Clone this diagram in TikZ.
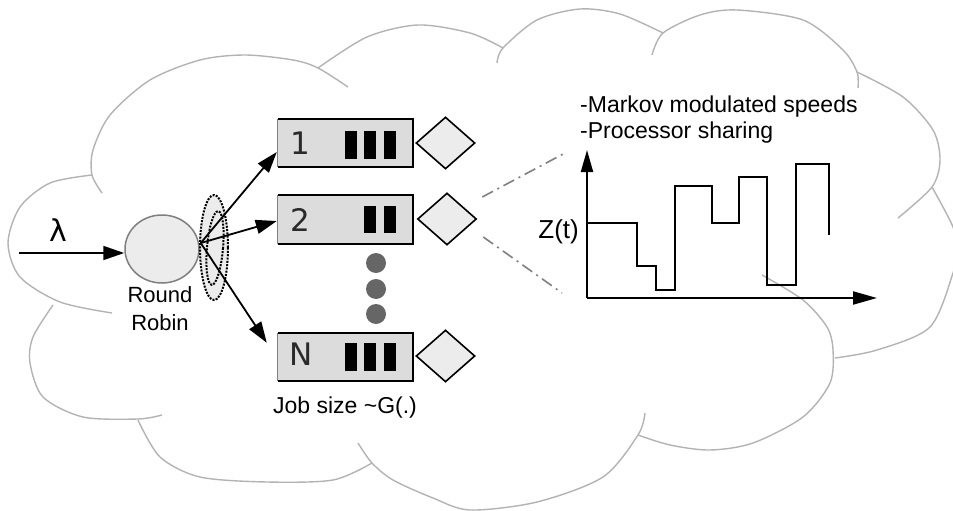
\documentclass[tikz,border=0pt]{standalone}
\usepackage{fontspec}
\setmainfont{Liberation Sans}
\newfontfamily\djv{DejaVu Sans}
\usetikzlibrary{arrows.meta,shapes.geometric,calc}

\definecolor{cloudgray}{HTML}{B3B3B3}
\definecolor{boxfill}{HTML}{DCDCDC}
\definecolor{shapefill}{HTML}{ECECEC}
\definecolor{dotgray}{HTML}{666666}
\definecolor{dashgray}{HTML}{808080}
\definecolor{rimgray}{HTML}{7F7F7F}
\definecolor{labelgray}{HTML}{2A2A2A}

\begin{document}
\begin{tikzpicture}[x=1pt,y=-1pt,
  lobe/.style={draw=cloudgray, line width=1.4pt},
  arr/.style={-{Triangle[length=21pt,width=14pt]}, line width=1.8pt},
  axisarr/.style={-{Triangle[length=22pt,width=12pt]}, line width=2pt},
  queue/.style={rectangle, fill=boxfill, minimum width=135pt, minimum height=48pt, inner sep=0pt},
  server/.style={diamond, draw=black, fill=shapefill, line width=1.6pt, minimum width=59pt, minimum height=52pt, inner sep=0pt},
  bar/.style={fill=black},
  dotnode/.style={circle, fill=dotgray, minimum size=20pt, inner sep=0pt},
  qlabel/.style={font=\djv\fontsize{31}{31}\selectfont, text=labelgray, inner sep=0pt},
  txt/.style={font=\fontsize{23}{27}\selectfont, inner sep=0pt},
  selring/.style={ellipse, draw=black, line width=2pt, dash pattern=on 2pt off 1.3pt, inner sep=0pt},
  zoomline/.style={draw=dashgray, line width=1.6pt, dash pattern=on 12pt off 5pt on 2pt off 5pt},
  stepline/.style={line width=2pt, line join=miter}]

\useasboundingbox (0,0) rectangle (953,511);
\clip (0,0) rectangle (953,511);

% cloud outline, one arc per lobe
\draw[lobe] plot[smooth] coordinates {(102,193) (92,175) (93,150) (110,115) (150,80) (200,60) (245,55) (293,60) (318,68) (348,87)};
\draw[lobe] plot[smooth] coordinates {(318,68) (367,37) (418,25) (470,33) (503,48)};
\draw[lobe] plot[smooth] coordinates {(497,63) (503,48) (537,20) (580,9) (620,14) (663,33)};
\draw[lobe] plot[smooth] coordinates {(652,55) (663,33) (700,15) (737,10) (803,20) (843,50) (857,72) (858,88)};
\draw[lobe] plot[smooth] coordinates {(857,72) (903,97) (933,130) (940,160) (932,187) (898,218)};
\draw[lobe] plot[smooth] coordinates {(932,187) (953,227) (957,250) (953,273) (930,327) (877,350) (835,358)};
\draw[lobe] plot[smooth] coordinates {(762,275) (803,300) (827,327) (833,350) (830,383) (803,417) (753,443) (710,450) (670,445) (638,435)};
\draw[lobe] plot[smooth] coordinates {(645,413) (638,435) (603,477) (537,502) (470,510) (433,498) (393,480) (372,463) (358,443)};
\draw[lobe] plot[smooth] coordinates {(372,463) (333,480) (267,482) (200,477) (160,457) (138,420)};
\draw[lobe] plot[smooth] coordinates {(53,305) (33,337) (30,363) (43,397) (83,417) (138,419) (162,415)};
\draw[lobe] plot[smooth] coordinates {(92,175) (50,183) (20,207) (8,243) (20,277) (60,302) (112,313)};

% dispatcher
\node[ellipse, draw=rimgray, fill=shapefill, line width=1.5pt, minimum width=74pt, minimum height=68pt, inner sep=0pt] (rr) at (162,249) {};
\node[txt, font=\fontsize{22}{28}\selectfont, align=center, anchor=north] (rrlab) at (160,286) {Round\\Robin};
\node[font=\djv\fontsize{30}{30}\selectfont, inner sep=0pt] (lam) at (58,230) {λ};
\coordinate (lin) at (19,253);
\draw[arr] (lin) -- (lin -| rr.west);

% routing selector
\node[selring, fill=shapefill, minimum width=28pt, minimum height=105pt] (selout) at (214,247.5) {};
\node[selring, rotate=-5, minimum width=16pt, minimum height=74pt] (selin) at (215,248) {};

% queues
\node[queue] (q1) at (345.5,143) {};
\node[queue] (q2) at (345.5,219.5) {};
\node[queue] (qN) at (345.5,357) {};
\foreach \q in {q1,q2,qN}{
  \draw[line width=1.8pt, line join=miter] (\q.south west) -- (\q.south east) -- (\q.north east) -- (\q.north west);
  \draw[line width=1pt, draw=gray] (\q.north west) -- (\q.south west);
}
\node[qlabel] (l1) at (300,143) {1};
\node[qlabel] (l2) at (300,220) {2};
\node[qlabel] (lN) at (301,354) {N};

\fill[bar] (345,131) rectangle (357,159);
\fill[bar] (364,131) rectangle (376,159);
\fill[bar] (384,131) rectangle (396,159);
\fill[bar] (364,206) rectangle (376,233);
\fill[bar] (384,206) rectangle (396,233);
\fill[bar] (345,343) rectangle (357,371);
\fill[bar] (364,343) rectangle (376,371);
\fill[bar] (384,343) rectangle (396,371);

\node[dotnode] (dot1) at (376,263) {};
\node[dotnode] (dot2) at (376,289) {};
\node[dotnode] (dot3) at (376,314) {};

% servers
\node[server] (d1) at (445.5,143) {};
\node[server] (d2) at (447,219) {};
\node[server] (dN) at (445.5,356) {};

\node[txt, anchor=base] (job) at (345,413) {Job size \textasciitilde G(.)};

% dispatch arrows
\coordinate (fan) at ($(rr.east)+(1,-6)$);
\draw[arr] (fan) -- ($(q1.west)+(-1,9)$);
\draw[arr] (fan) -- ($(q2.west)+(-1,1.5)$);
\draw[arr] (fan) -- ($(qN.north west)+(-11,10)$);

% speed process
\coordinate (ax0) at (587,298);
\coordinate (ytop) at (587,150);
\coordinate (xend) at (877,298);
\draw[axisarr] (ax0) -- (ytop);
\draw[axisarr, -{Triangle[length=24pt,width=13pt]}] (ax0) -- (xend);
\draw[stepline] (587,223) -- (637,223) -- (637,266) -- (656,266) -- (656,290) -- (675,290) -- (675,186) -- (712,186) -- (712,223) -- (739,223) -- (739,177) -- (767,177) -- (767,285) -- (796,285) -- (796,164) -- (829,164) -- (829,235);
\node[txt, font=\fontsize{26}{26}\selectfont, anchor=east] (zt) at (579,232) {Z(t)};

\node[txt, anchor=base west] (mk1) at (580,112) {-Markov modulated speeds};
\node[txt, anchor=base west] (mk2) at (580,138) {-Processor sharing};

% zoom lines from server 2 to the chart
\coordinate (zu) at (565,153);
\coordinate (zl) at (562,293);
\draw[zoomline] ($(d2.east)+(5,-22)$) -- (zu);
\draw[zoomline] ($(d2.east)+(6,18)$) -- (zl);

\end{tikzpicture}
\end{document}
